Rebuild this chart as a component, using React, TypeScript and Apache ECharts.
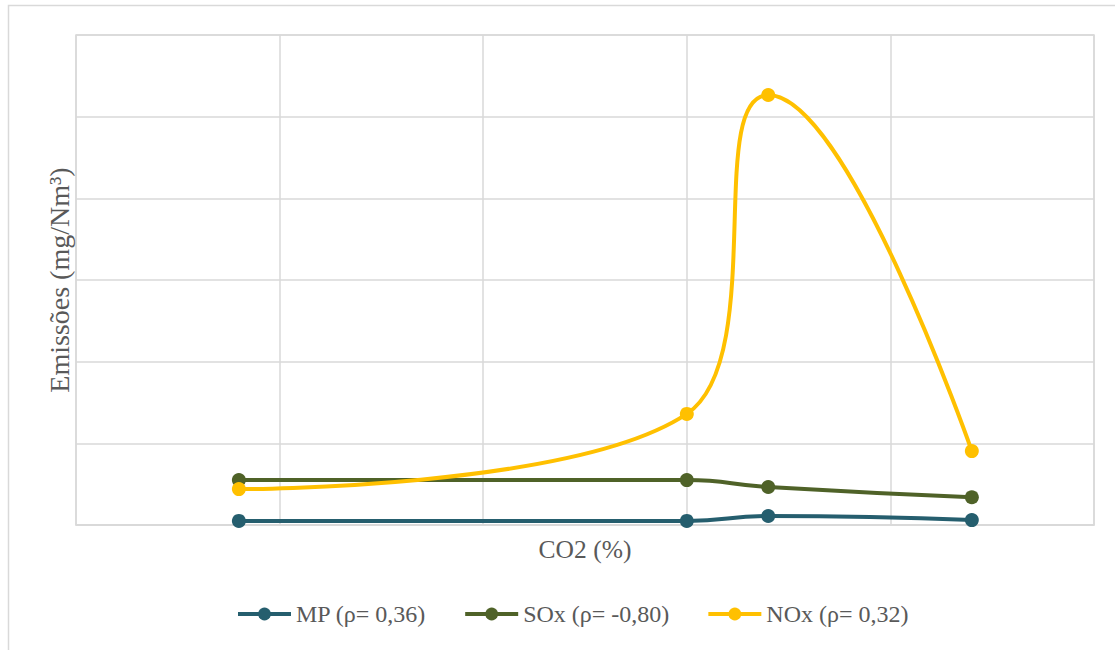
import React, { useEffect, useRef } from "react";
import * as echarts from "echarts";

const co2 = [0.8, 3.0, 3.4, 4.4];
const mpValues = [5, 5, 11, 6];
const soxValues = [55, 55, 46.5, 34];
const noxValues = [44, 136, 526.5, 90.5];
const seriesNames = ["MP (ρ= 0,36)", "SOx (ρ= -0,80)", "NOx (ρ= 0,32)"];
const seriesColors = ["#255E6E", "#4F6228", "#FFC000"];

const FONT = "'Liberation Serif', 'Times New Roman', serif";
const GRID = "#D9D9D9";

export default function App() {
  const ref = useRef<HTMLDivElement>(null);
  useEffect(() => {
    if (!ref.current) return;
    const chart = echarts.init(ref.current, undefined, { renderer: "svg" });
    const valueSets = [mpValues, soxValues, noxValues];
    chart.setOption({
      animation: false,
      backgroundColor: "#ffffff",
      textStyle: { fontFamily: FONT },
      graphic: [
        {
          type: "rect",
          shape: { x: 8.5, y: 5.5, width: 1200, height: 800 },
          style: { fill: "none", stroke: GRID, lineWidth: 1.5 },
          silent: true,
        },
      ],
      grid: {
        left: 76,
        top: 35,
        width: 1018,
        height: 490,
        show: true,
        borderColor: GRID,
        borderWidth: 1.5,
      },
      legend: {
        bottom: 19,
        left: 231,
        itemWidth: 53,
        itemHeight: 16,
        itemGap: 37,
        lineStyle: { width: 4 },
        textStyle: { fontFamily: FONT, fontSize: 24, color: "#595959" },
        data: seriesNames,
      },
      xAxis: {
        type: "value",
        min: 0,
        max: 5,
        interval: 1,
        name: "CO2 (%)",
        nameLocation: "middle",
        nameGap: 11,
        nameTextStyle: { fontFamily: FONT, fontSize: 25.5, color: "#595959" },
        axisLabel: { show: false },
        axisTick: { show: false },
        axisLine: { show: true, lineStyle: { color: GRID, width: 1.5 } },
        splitLine: { show: true, lineStyle: { color: GRID, width: 1.5 } },
      },
      yAxis: {
        type: "value",
        min: 0,
        max: 600,
        interval: 100,
        name: "Emissões (mg/Nm³)",
        nameLocation: "middle",
        nameGap: 3,
        nameTextStyle: { fontFamily: FONT, fontSize: 28, color: "#595959" },
        axisLabel: { show: false },
        axisTick: { show: false },
        axisLine: { show: false },
        splitLine: { show: true, lineStyle: { color: GRID, width: 1.5 } },
      },
      series: seriesNames.map((name, i) => ({
        name,
        type: "line",
        smooth: 0.5,
        data: co2.map((x, j) => [x, valueSets[i][j]]),
        symbol: "circle",
        symbolSize: 14,
        lineStyle: { color: seriesColors[i], width: 4 },
        itemStyle: { color: seriesColors[i] },
        z: 2 + i,
      })),
    });
    return () => chart.dispose();
  }, []);
  return (
    <div
      ref={ref}
      style={{ position: "absolute", left: 0, top: 0, width: 1115, height: 650 }}
    />
  );
}
